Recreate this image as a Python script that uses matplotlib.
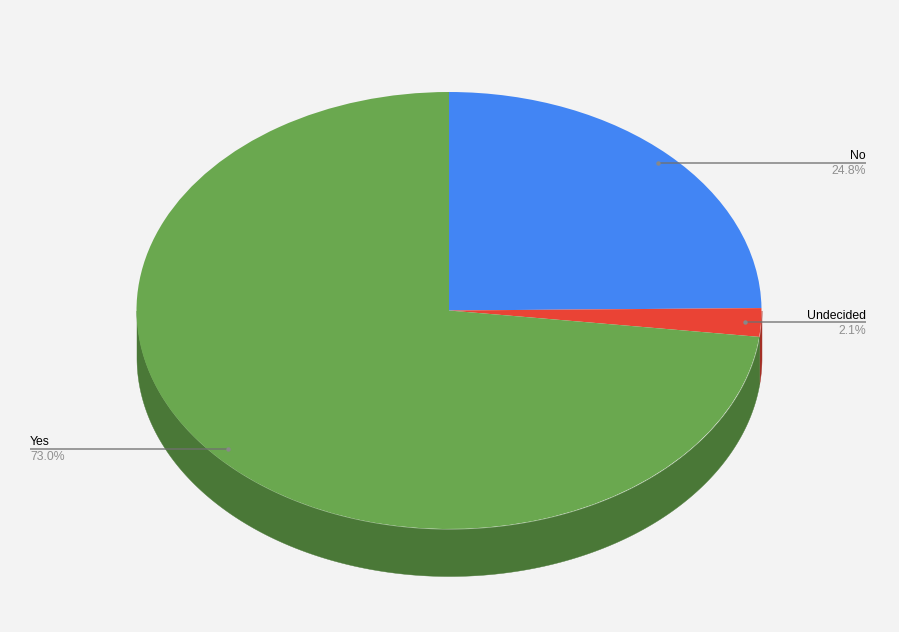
import numpy as np
import matplotlib
matplotlib.use("Agg")
import matplotlib.pyplot as plt

categories = ["No", "Undecided", "Yes"]
values = [24.8, 2.1, 73.0]
pct_labels = ["24.8%", "2.1%", "73.0%"]
colors = ["#4285f4", "#ea4335", "#6aa84f"]
side_colors = ["#2e5dab", "#a32f25", "#4a7837"]

W, H = 899, 632
CX, CY, RX, RY, DEPTH = 449.0, 310.5, 312.5, 218.5, 47.0
BG = "#f3f3f3"

plt.rcParams["font.family"] = ["Liberation Sans", "DejaVu Sans"]
fig = plt.figure(figsize=(W / 100, H / 100), dpi=100, facecolor=BG)
ax = fig.add_axes([0, 0, 1, 1])

wedges, _ = ax.pie(values, colors=colors, startangle=90, counterclock=False, radius=1,
                   wedgeprops={"linewidth": 0, "zorder": 3})
ax.set_aspect("auto")
ax.set_xlim((0 - CX) / RX, (W - CX) / RX)
ax.set_ylim((CY - H) / RY, (CY - 0) / RY)
ax.set_facecolor(BG)
ax.axis("off")


def X(px):
    return (px - CX) / RX


def Y(py):
    return (CY - py) / RY


# extruded wall of the pie: visible for the lower half only
frac = np.array(values) / np.sum(values)
edges = 90 - 360 * np.concatenate([[0], np.cumsum(frac)])
d = DEPTH / RY
for a0, a1, c in zip(edges[:-1], edges[1:], side_colors):
    lo, hi = max(a1, -180), min(a0, 0)
    if hi <= lo:
        continue
    t = np.radians(np.linspace(lo, hi, 300))
    ax.fill_between(np.cos(t), np.sin(t), np.sin(t) - d, color=c, linewidth=0.3, zorder=2)

# leader lines and labels
anchors = [(658, 163), (745, 322.5), (228, 449)]
ends = [866, 866, 30]
for (ax_px, ay_px), end, name, pct in zip(anchors, ends, categories, pct_labels):
    ax.plot([X(ax_px), X(end)], [Y(ay_px), Y(ay_px)], color="#707070", lw=1.2, alpha=0.8,
            zorder=5, solid_capstyle="butt")
    ax.plot([X(ax_px)], [Y(ay_px)], "o", ms=3.2, color="#888888", mew=0, zorder=6)
    ha = "right" if end > CX else "left"
    ax.text(X(end), Y(ay_px - 0.5), name, ha=ha, va="bottom", fontsize=8.85, color="#000000", zorder=7)
    ax.text(X(end), Y(ay_px + 2.5), pct, ha=ha, va="top", fontsize=8.85, color="#909090", zorder=7)

fig.savefig("out.png", dpi=100, facecolor=BG)
